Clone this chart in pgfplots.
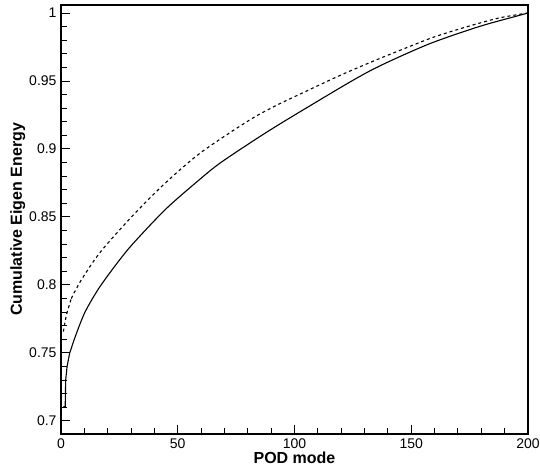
\documentclass[border=0pt]{standalone}
\usepackage{pgfplots}
\pgfplotsset{compat=1.18}
\usepackage{fontspec}
\setmainfont{Liberation Sans}
\begin{document}
\begin{tikzpicture}
\useasboundingbox (-61pt,-37pt) rectangle (479pt,434pt);
\begin{axis}[
  at={(0pt,0pt)}, anchor=south west,
  scale only axis, width=467pt, height=429pt,
  xmin=0, xmax=200, ymin=0.6904, ymax=1.0059,
  axis line style={line width=1.4pt},
  tick style={line width=1pt, black},
  tick align=inside,
  xtick pos=bottom, ytick pos=left,
  xtick={0,50,100,150,200}, xticklabels={0,50,100,150,200},
  ytick={0.7,0.75,0.8,0.85,0.9,0.95,1},
  yticklabels={0.7,0.75,0.8,0.85,0.9,0.95,1},
  minor x tick num=4, minor y tick num=4,
  major tick length=9pt, minor tick length=6pt,
  /pgf/number format/assume math mode=true,
  tick label style={font=\fontsize{14}{16}\selectfont},
  xticklabel style={yshift=-1pt},
  yticklabel style={xshift=-1pt},
  xlabel={\bfseries POD mode},
  ylabel={\bfseries Cumulative Eigen Energy},
  label style={font=\fontsize{16}{18}\selectfont},
  xlabel style={yshift=3pt},
  ylabel style={yshift=-3pt},
]
\addplot[black, line width=1.1pt] coordinates {
(1,0.7105) (1.8,0.7105) (2,0.730) (2.6,0.740) (3.7,0.7498) (5.6,0.7596)
};
\addplot[black, line width=1.1pt, smooth, tension=0.5] coordinates {
(5.6,0.7596) (10,0.779) (16,0.797) (24,0.816) (31,0.8307) (45,0.856) (60,0.8785)
(68,0.8895) (81,0.9045) (91,0.9155) (102,0.927) (124,0.9495) (137,0.9615)
(158,0.9775) (179,0.9900) (194,0.9972) (200,1.0)
};
\addplot[black, line width=1.1pt, dash pattern=on 3pt off 3pt] coordinates {
(1,0.7657) (2.3,0.778) (4.4,0.790)
};
\addplot[black, line width=1.1pt, dash pattern=on 3pt off 3pt, smooth, tension=0.5] coordinates {
(4.4,0.790) (8.7,0.8037) (17,0.8245) (31,0.8515) (45,0.8755) (60,0.8975)
(80,0.9205) (91,0.931) (105,0.9425) (120,0.9545) (135,0.9655) (148,0.9745)
(160,0.9825) (175,0.9905) (188,0.9965) (200,1.0)
};
\end{axis}
\end{tikzpicture}
\end{document}
